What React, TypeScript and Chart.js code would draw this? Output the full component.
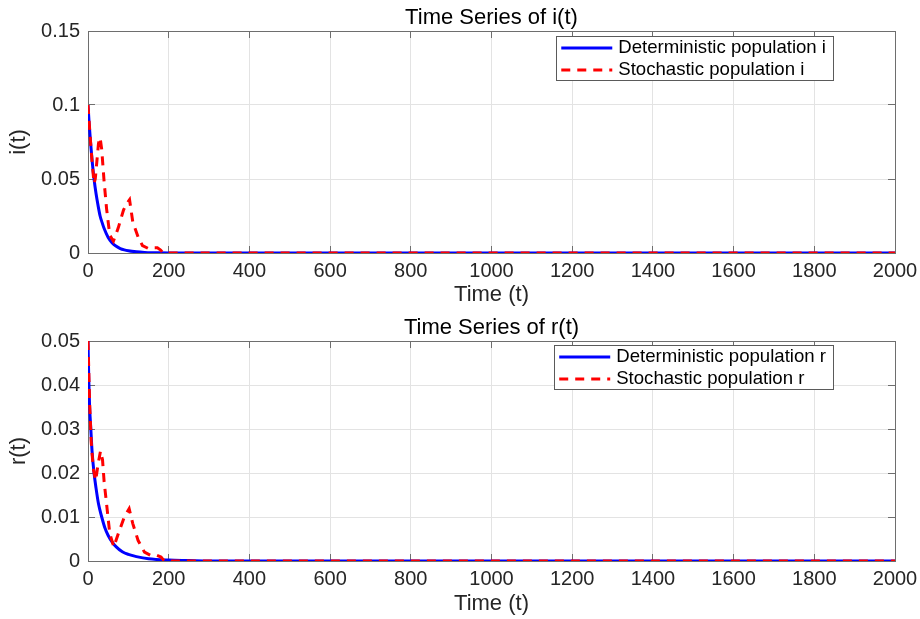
import React, { useEffect, useRef } from 'react';
import { Chart, registerables } from 'chart.js';

Chart.register(...registerables);

// ---------- data ----------
const xTicks = [0, 200, 400, 600, 800, 1000, 1200, 1400, 1600, 1800, 2000];
const iTicks = [0, 0.05, 0.1, 0.15];
const rTicks = [0, 0.01, 0.02, 0.03, 0.04, 0.05];

const iDetT = [0, 3, 6, 10, 15, 20, 25, 30, 35, 40, 50, 60, 70, 80, 90, 100, 120, 140, 160, 180, 200, 250, 300, 2000];
const iDetV = [0.1, 0.087, 0.076, 0.063, 0.05, 0.04, 0.032, 0.025, 0.0205, 0.0165, 0.0105, 0.0068, 0.0045, 0.003, 0.0021, 0.0015, 0.0008, 0.0004, 0.0002, 0.0001, 0.00005, 0.00001, 0, 0];

const iStoT = [0, 5, 10, 15, 18, 22, 26, 30, 34, 40, 46, 54, 63, 75, 88, 95, 103, 111, 124, 135, 150, 160, 172, 180, 186, 2000];
const iStoV = [0.1, 0.08, 0.062, 0.047, 0.05, 0.062, 0.074, 0.078, 0.07, 0.048, 0.03, 0.012, 0.008, 0.017, 0.029, 0.033, 0.036, 0.021, 0.011, 0.005, 0.003, 0.0035, 0.0035, 0.002, 0, 0];

const rDetT = [0, 2, 4, 7, 10, 15, 20, 26, 34, 42, 50, 60, 70, 85, 100, 120, 150, 200, 250, 300, 2000];
const rDetV = [0.05, 0.041, 0.035, 0.03, 0.025, 0.02, 0.0165, 0.013, 0.01, 0.0075, 0.0058, 0.0043, 0.0032, 0.0021, 0.0015, 0.001, 0.0005, 0.0002, 0.0001, 0, 0];

const rStoT = [0, 4, 8, 13, 19, 25, 31, 36, 40, 46, 54, 64, 75, 90, 102, 111, 124, 140, 155, 170, 181, 189, 2000];
const rStoV = [0.05, 0.036, 0.027, 0.021, 0.0183, 0.022, 0.025, 0.023, 0.018, 0.013, 0.0062, 0.0032, 0.0062, 0.01, 0.0119, 0.0085, 0.0047, 0.002, 0.0013, 0.0013, 0.0009, 0, 0];

// ---------- styling ----------
const FONT = "'Liberation Sans', Arial, Helvetica, sans-serif";
const AXIS = '#6e6e6e';
const GRID = '#e3e3e3';
const TXT = '#262626';

const insideLegend = {
  id: 'insideLegend',
  afterDraw(chart: any, _args: any, opts: any) {
    const ctx = chart.ctx;
    const a = chart.chartArea;
    const items = chart.data.datasets;
    ctx.save();
    ctx.font = `18.6px ${FONT}`;
    const tw = Math.max(...items.map((d: any) => ctx.measureText(d.label).width));
    const right = a.right - 62;
    const top = a.top + (opts.top ?? 5);
    const left = right - (62 + tw + 7);
    const h = 44;
    ctx.fillStyle = '#ffffff';
    ctx.fillRect(left, top, right - left, h);
    ctx.strokeStyle = '#5a5a5a';
    ctx.lineWidth = 1;
    ctx.strokeRect(Math.round(left) + 0.5, Math.round(top) + 0.5, Math.round(right - left), h);
    items.forEach((d: any, k: number) => {
      const y = top + 12 + k * 22;
      ctx.beginPath();
      ctx.setLineDash(d.borderDash || []);
      ctx.strokeStyle = d.borderColor;
      ctx.lineWidth = d.borderWidth;
      ctx.moveTo(left + 5, y);
      ctx.lineTo(left + 56, y);
      ctx.stroke();
      ctx.setLineDash([]);
      ctx.fillStyle = '#000000';
      ctx.textBaseline = 'middle';
      ctx.textAlign = 'left';
      ctx.fillText(d.label, left + 62, y);
    });
    ctx.restore();
  },
};

type PanelProps = {
  title: string;
  yLabel: string;
  yTicks: number[];
  detT: number[];
  detV: number[];
  stoT: number[];
  stoV: number[];
  labels: string[];
  height: number;
  xScaleH: number;
  legendTop: number;
};

function edgeColor(min: number, max: number) {
  return (c: any) =>
    c.tick && (c.tick.value === min || c.tick.value === max) ? 'rgba(0,0,0,0)' : GRID;
}

function Panel(p: PanelProps) {
  const ref = useRef<HTMLCanvasElement | null>(null);
  useEffect(() => {
    if (!ref.current) return;
    const yMax = p.yTicks[p.yTicks.length - 1];
    const setX = (s: any) => {
      s.ticks = xTicks.map((v) => ({ value: v }));
    };
    const setY = (s: any) => {
      s.ticks = p.yTicks.map((v) => ({ value: v }));
    };
    const chart = new Chart(ref.current, {
      type: 'line',
      data: {
        datasets: [
          {
            label: p.labels[0],
            data: p.detT.map((t, k) => ({ x: t, y: p.detV[k] })),
            borderColor: '#0000ff',
            backgroundColor: '#0000ff',
            borderWidth: 3,
            pointRadius: 0,
            cubicInterpolationMode: 'monotone',
            fill: false,
            order: 1,
          },
          {
            label: p.labels[1],
            data: p.stoT.map((t, k) => ({ x: t, y: p.stoV[k] })),
            borderColor: '#ff0000',
            backgroundColor: '#ff0000',
            borderWidth: 3,
            borderDash: [9, 7],
            pointRadius: 0,
            tension: 0,
            fill: false,
            order: 0,
          },
        ],
      },
      options: {
        animation: false,
        responsive: false,
        events: [],
        layout: { padding: { left: 0, right: 25, top: 0, bottom: 0 } },
        plugins: {
          legend: { display: false },
          tooltip: { enabled: false },
          title: {
            display: true,
            text: p.title,
            fullSize: false,
            color: '#000000',
            font: { family: FONT, size: 22, weight: 'normal', lineHeight: 1.2 },
            padding: { top: 4.6, bottom: 0 },
          },
          insideLegend: { top: p.legendTop },
        } as any,
        scales: {
          x: {
            type: 'linear',
            position: 'bottom',
            min: 0,
            max: 2000,
            afterBuildTicks: setX,
            afterFit: (s: any) => {
              s.height = p.xScaleH;
              s.paddingRight = 0;
              s.paddingLeft = 0;
            },
            ticks: {
              color: TXT,
              font: { family: FONT, size: 20 },
              padding: 13,
              maxRotation: 0,
              autoSkip: false,
              callback: (v: any) => String(v),
            },
            grid: { color: edgeColor(0, 2000), tickColor: AXIS, tickLength: -7, drawTicks: true },
            border: { color: AXIS, width: 1 },
            title: {
              display: true,
              text: 'Time (t)',
              color: TXT,
              font: { family: FONT, size: 22, lineHeight: 1.2 },
              padding: { top: 0, bottom: 2 },
            },
          },
          y: {
            type: 'linear',
            position: 'left',
            min: 0,
            max: yMax,
            afterBuildTicks: setY,
            afterFit: (s: any) => {
              s.width = 88;
              s.paddingTop = 0;
              s.paddingBottom = 0;
            },
            ticks: {
              color: TXT,
              font: { family: FONT, size: 20 },
              padding: 15,
              callback: (v: any) => String(v),
            },
            grid: { color: edgeColor(0, yMax), tickColor: AXIS, tickLength: -7, drawTicks: true },
            border: { color: AXIS, width: 1 },
            title: {
              display: true,
              text: p.yLabel,
              color: TXT,
              font: { family: FONT, size: 22, lineHeight: 1.2 },
              padding: { top: 6, bottom: 0 },
            },
          },
          x2: {
            type: 'linear',
            position: 'top',
            min: 0,
            max: 2000,
            z: 1,
            afterBuildTicks: setX,
            afterFit: (s: any) => {
              s.height = 0;
              s.paddingRight = 0;
              s.paddingLeft = 0;
            },
            ticks: { display: false },
            grid: { drawOnChartArea: false, tickColor: AXIS, tickLength: -7, drawTicks: true },
            border: { color: AXIS, width: 1 },
          },
          y2: {
            type: 'linear',
            position: 'right',
            min: 0,
            max: yMax,
            z: 1,
            afterBuildTicks: setY,
            afterFit: (s: any) => {
              s.width = 0;
              s.paddingTop = 0;
              s.paddingBottom = 0;
            },
            ticks: { display: false },
            grid: { drawOnChartArea: false, tickColor: AXIS, tickLength: -7, drawTicks: true },
            border: { color: AXIS, width: 1 },
          },
        } as any,
      },
      plugins: [insideLegend],
    } as any);
    return () => chart.destroy();
  }, []);
  return (
    <canvas
      ref={ref}
      width={920}
      height={p.height}
      style={{ display: 'block', width: 920, height: p.height }}
    />
  );
}

export default function App() {
  return (
    <div style={{ position: 'absolute', left: 0, top: 0, width: 920, height: 619, background: '#ffffff' }}>
      <Panel
        title="Time Series of i(t)"
        yLabel="i(t)"
        yTicks={iTicks}
        detT={iDetT}
        detV={iDetV}
        stoT={iStoT}
        stoV={iStoV}
        labels={['Deterministic population i', 'Stochastic population i']}
        height={310}
        xScaleH={57}
        legendTop={5}
      />
      <Panel
        title="Time Series of r(t)"
        yLabel="r(t)"
        yTicks={rTicks}
        detT={rDetT}
        detV={rDetV}
        stoT={rStoT}
        stoV={rStoV}
        labels={['Deterministic population r', 'Stochastic population r']}
        height={309}
        xScaleH={58}
        legendTop={4}
      />
    </div>
  );
}
